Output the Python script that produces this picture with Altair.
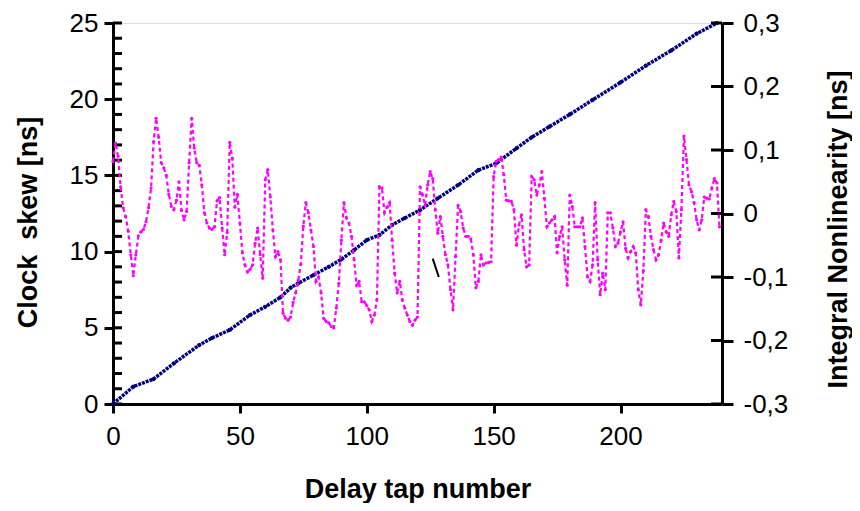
import altair as alt
import pandas as pd

# ---------------- data ----------------
taps = list(range(240))
inl = [
    0.082, 0.111, 0.090, 0.042, 0.009, -0.005, -0.028, -0.065, -0.098, -0.065,
    -0.035, -0.029, -0.025, -0.013, 0.009, 0.040, 0.113, 0.150, 0.120, 0.080,
    0.072, 0.060, 0.030, 0.011, 0.006, 0.021, 0.050, 0.005, -0.010, 0.003,
    0.080, 0.150, 0.103, 0.080, 0.076, 0.045, 0.001, -0.015, -0.023, -0.025,
    -0.021, 0.020, 0.025, -0.023, -0.065, -0.030, 0.112, 0.087, 0.010, 0.030,
    -0.015, -0.062, -0.081, -0.092, -0.088, -0.081, -0.047, -0.023, -0.065, -0.102,
    0.053, 0.069, 0.026, -0.026, -0.068, -0.060, -0.073, -0.157, -0.165, -0.168,
    -0.163, -0.140, -0.125, -0.105, -0.080, -0.020, 0.017, 0.001, -0.026, -0.052,
    -0.107, -0.100, -0.125, -0.165, -0.170, -0.172, -0.178, -0.180, -0.149, -0.110,
    -0.042, 0.017, -0.007, -0.015, -0.036, -0.073, -0.113, -0.107, -0.139, -0.139,
    -0.145, -0.152, -0.170, -0.160, -0.136, 0.042, 0.040, 0.001, 0.010, 0.017,
    -0.042, -0.094, -0.125, -0.107, -0.136, -0.149, -0.160, -0.170, -0.176, -0.168,
    -0.163, 0.042, 0.029, 0.013, 0.045, 0.066, 0.055, 0.006, -0.031, -0.005,
    -0.036, -0.065, -0.081, -0.120, -0.152, -0.068, 0.013, 0.003, -0.023, -0.036,
    -0.036, -0.040, -0.065, -0.117, -0.107, -0.065, -0.081, -0.078, -0.077, -0.076,
    0.058, 0.082, 0.085, 0.089, 0.061, 0.021, 0.020, 0.019, 0.006, -0.050,
    -0.018, -0.002, -0.057, -0.084, -0.081, 0.058, 0.053, 0.029, 0.045, 0.066,
    0.024, -0.021, -0.015, -0.010, -0.005, -0.062, -0.036, -0.021, -0.073, -0.113,
    0.029, 0.011, -0.021, -0.021, -0.021, -0.007, -0.052, -0.100, -0.107, -0.081,
    0.017, -0.073, -0.128, -0.094, -0.120, 0.001, 0.001, -0.023, -0.052, -0.047,
    -0.029, -0.013, -0.055, -0.070, -0.060, -0.052, -0.062, -0.120, -0.144, -0.090,
    0.006, -0.005, -0.036, -0.057, -0.073, -0.065, -0.042, -0.015, -0.029, -0.036,
    -0.002, 0.019, 0.003, -0.070, 0.006, 0.122, 0.085, 0.045, 0.034, 0.017,
    -0.010, -0.026, -0.010, 0.026, 0.024, 0.023, 0.040, 0.055, 0.048, -0.021,
]

blue_taps = [0, 8, 16, 24, 34, 39, 46, 54, 60, 66, 70, 73, 79, 85, 90, 95, 100,
             105, 110, 115, 121, 128, 136, 144, 151, 159, 165, 172, 180, 189,
             200, 210, 220, 230, 238]
blue_skew = [0.0, 1.14, 1.64, 2.67, 3.87, 4.33, 4.86, 5.84, 6.38, 7.0, 7.63, 7.92,
             8.46, 9.0, 9.49, 10.1, 10.76, 11.09, 11.75, 12.2, 12.73, 13.5, 14.37,
             15.35, 15.79, 16.78, 17.5, 18.2, 19.0, 19.95, 21.1, 22.2, 23.2, 24.3, 25.0]

x_ticks = [0, 50, 100, 150, 200]
left_major = [0, 5, 10, 15, 20, 25]
left_minor = list(range(0, 26))
right_ticks = [-0.3, -0.2, -0.1, 0, 0.1, 0.2, 0.3]

stray_tap = [126.0, 128.4]
stray_inl = [-0.071, -0.100]

# ---------------- chart ----------------
W, H = 609, 381
FONT = "Liberation Sans"
LBL = 26
TTL = 27

xscale = alt.Scale(domain=[0, 240], nice=False, zero=False)
yL = alt.Scale(domain=[0, 25], nice=False)
yR = alt.Scale(domain=[-0.3, 0.3], nice=False)

common = dict(tickWidth=3, domainWidth=3, domainColor="black", tickColor="black",
              labelFontSize=LBL, labelFont=FONT, labelColor="black",
              labelFlush=False, labelOverlap=False,
              titleFont=FONT, titleFontSize=TTL, titleFontWeight="bold",
              titleColor="black", titleBaseline="middle", grid=False)

xaxis = alt.Axis(values=x_ticks, title="Delay tap number", format="d",
                 tickSize=9, labelPadding=10, titleY=85, **common)
laxis = alt.Axis(values=left_major, title="Clock\u00a0 skew [ns]", format="d",
                 tickSize=9, labelPadding=6, titleX=-85, titleY=199, **common)
raxis = alt.Axis(values=right_ticks, title="Integral Nonlinearity [ns]",
                 orient="right",
                 labelExpr="datum.value == 0 ? '0' : (datum.value < 0 ? '-' : '') + replace(format(abs(datum.value), '.1f'), '.', ',')",
                 tickSize=11, labelPadding=10, titleAngle=270, titleX=116,
                 titleY=206, **common)

blue_df = pd.DataFrame({"tap": blue_taps, "skew": blue_skew})
mag_df = pd.DataFrame({"tap": taps, "inl": inl})
lt_df = pd.DataFrame({"v": left_minor})
rt_df = pd.DataFrame({"v": right_ticks})
stray_df = pd.DataFrame({"tap": stray_tap, "inl": stray_inl})

X = alt.X("tap:Q", scale=xscale, axis=xaxis)

blue_line = alt.Chart(blue_df).mark_line(color="#000080", strokeWidth=3.5,
                                         strokeDash=[3, 1]).encode(
    x=X, y=alt.Y("skew:Q", scale=yL, axis=laxis))
blue_pts = alt.Chart(blue_df).mark_circle(color="#000080", size=18, opacity=1).encode(
    x=X, y=alt.Y("skew:Q", scale=yL, axis=laxis))
left_inner = alt.Chart(lt_df).mark_rule(color="black", strokeWidth=3).encode(
    y=alt.Y("v:Q", scale=yL, axis=laxis), x=alt.value(0), x2=alt.value(9))
left = alt.layer(left_inner, blue_line, blue_pts)

mag_line = alt.Chart(mag_df).mark_line(color="#FF00FF", strokeWidth=2.2,
                                       strokeDash=[4, 3]).encode(
    x=X, y=alt.Y("inl:Q", scale=yR, axis=raxis))
mag_pts = alt.Chart(mag_df).mark_circle(color="#FF00FF", size=10, opacity=1).encode(
    x=X, y=alt.Y("inl:Q", scale=yR, axis=raxis))
right_inner = alt.Chart(rt_df).mark_rule(color="black", strokeWidth=3).encode(
    y=alt.Y("v:Q", scale=yR, axis=raxis), x=alt.value(W - 11), x2=alt.value(W))
stray = alt.Chart(stray_df).mark_line(color="black", strokeWidth=2).encode(
    x=X, y=alt.Y("inl:Q", scale=yR, axis=raxis))
right = alt.layer(right_inner, mag_line, mag_pts, stray)

chart = alt.layer(left, right).resolve_scale(y="independent").properties(
    width=W, height=H,
    autosize=alt.AutoSizeParams(type="none"),
    padding={"left": 105, "top": 15, "right": 130, "bottom": 99},
).configure_view(stroke=None).configure(background="white")

chart.save("out.html", embed_options={"renderer": "svg", "actions": False})
